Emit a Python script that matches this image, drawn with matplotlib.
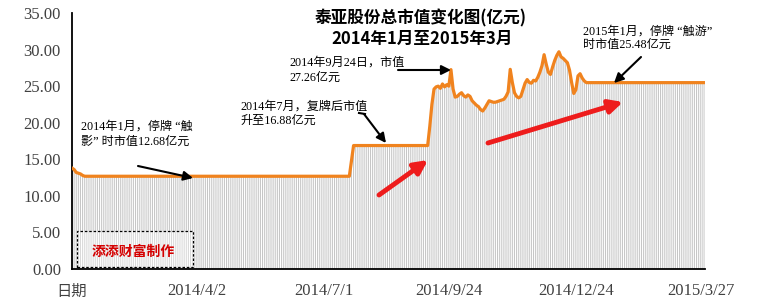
import numpy as np
import matplotlib
matplotlib.use('Agg')
import matplotlib.pyplot as plt
from matplotlib.patches import Rectangle, FancyArrowPatch

# ---------------- data (亿元, one value per trading day) ----------------
seg_jan = [13.8, 13.6, 13.2, 13.1, 13.0, 12.8]
seg_halt1 = [12.68] * 126
seg_resume = [14.8]
seg_flat2 = [16.88] * 36
seg_trade = [19.5, 22.5, 24.6, 24.9, 25.0, 24.7, 25.3, 24.9, 25.2, 25.0,
             27.26, 24.6, 23.5, 23.6, 23.9, 24.1, 23.7, 23.5, 23.8, 23.6,
             23.0, 22.7, 22.4, 22.2, 21.8, 21.6, 22.0, 22.5, 23.0, 22.9,
             22.8, 22.8, 22.9, 23.0, 23.1, 23.2, 23.6, 24.2, 27.3, 25.5,
             24.1, 23.6, 23.4, 23.6, 24.5, 25.4, 25.9, 25.5, 25.4, 25.8,
             25.7, 26.2, 26.9, 27.8, 29.3, 28.0, 26.9, 26.6, 27.6, 28.5,
             29.2, 29.7, 29.0, 28.8, 28.5, 28.2, 27.2, 25.5, 24.0, 24.5,
             26.4, 26.7, 26.1, 25.7]
seg_halt2 = [25.48] * 57
values = seg_jan + seg_halt1 + seg_resume + seg_flat2 + seg_trade + seg_halt2

tick_pos = [0, 59, 119, 178, 238, 297]
tick_labels = ["日期", "2014/4/2", "2014/7/1", "2014/9/24", "2014/12/24", "2015/3/27"]
yticks = [0, 5, 10, 15, 20, 25, 30, 35]

title_lines = ["泰亚股份总市值变化图(亿元)", "2014年1月至2015年3月"]

# ---------------- figure ----------------
W, H = 779, 305
fig = plt.figure(figsize=(W / 100, H / 100), dpi=100)
fig.patch.set_facecolor('white')
ax = fig.add_axes([72 / W, (H - 269) / H, (705 - 72) / W, (269 - 13) / H])

x = np.arange(len(values))
bars = ax.bar(x, values, width=0.5, color='#c6c6c6', linewidth=0, zorder=1)
for b in bars:
    b.set_snap(False)
ax.plot(x, values, color='#F0831E', lw=2.3, solid_joinstyle='round', zorder=3)

ax.set_xlim(0, len(values) - 1)
ax.set_ylim(0, 35)
ax.set_yticks(yticks)
ax.set_yticklabels([f"{v:.2f}" for v in yticks], fontfamily='Liberation Serif',
                   fontsize=12, color='#404040')
ax.set_xticks(tick_pos)
ax.set_xticklabels(tick_labels, fontsize=12, color='#404040')
for lab in ax.get_xticklabels():
    if lab.get_text() == "日期":
        lab.set_fontfamily(['Noto Sans CJK SC'])
        lab.set_fontsize(11)
    else:
        lab.set_fontfamily(['Liberation Serif'])
ax.tick_params(axis='y', length=0, pad=8)
ax.tick_params(axis='x', length=0, pad=10)
for s in ['top', 'right']:
    ax.spines[s].set_visible(False)
for s in ['left', 'bottom']:
    ax.spines[s].set_color('black')
    ax.spines[s].set_linewidth(1.3)


def P(px, py):
    return (px, H - py)


def ftext(px, py, s, **kw):
    fig.text(px / W, 1 - py / H, s, **kw)


# title
ftext(421, 18, title_lines[0], ha='center', va='center', fontsize=12,
      fontweight='bold', fontfamily=['Noto Sans CJK SC'])
ftext(422, 39, title_lines[1], ha='center', va='center', fontsize=12,
      fontweight='bold', fontfamily=['Noto Sans CJK SC'])

# annotations
afam = ['Liberation Serif', 'Noto Sans CJK SC']
akw = dict(ha='left', va='center', fontsize=8.7, fontfamily=afam, color='black')
ftext(81, 127, "2014年1月，停牌 “触", **akw)
ftext(81, 142, "影” 时市值12.68亿元", **akw)
ftext(240, 107, "2014年7月，复牌后市值", **akw)
ftext(240, 121, "升至16.88亿元", **akw)
ftext(289, 63, "2014年9月24日，市值", **akw)
ftext(289, 78, "27.26亿元", **akw)
ftext(583, 32, "2015年1月，停牌 “触游”", **akw)
ftext(583, 45, "时市值25.48亿元", **akw)


def farrow(p0, p1, color='black', lw=1.5, ms=14):
    a = FancyArrowPatch(P(*p0), P(*p1), transform=None, arrowstyle='-|>',
                        color=color, lw=lw, mutation_scale=ms, zorder=5,
                        shrinkA=0, shrinkB=0)
    fig.patches.append(a)


farrow((138, 166), (193, 178))
fig.lines.append(plt.Line2D([359, 365], [H - 113, H - 114], transform=None,
                            color='black', lw=1.5))
farrow((364, 114), (386, 143))
farrow((398, 70), (451, 70))
farrow((641, 57), (614, 83))
farrow((379, 195), (428, 160), color='#EE1C1C', lw=3.5, ms=20)
farrow((488, 143), (623, 102), color='#EE1C1C', lw=3.5, ms=20)

# watermark box
rect = Rectangle(P(77, 267), 116, 36, transform=None, facecolor=(1, 1, 1, 0.35),
                 edgecolor='black', lw=0.9, ls=(0, (2, 1.5)), zorder=6)
fig.patches.append(rect)
ftext(133, 252, "添添财富制作", ha='center', va='center', fontsize=10,
      fontweight='bold', color='#D40000', fontfamily=['Noto Sans CJK SC'],
      zorder=8)

fig.savefig('out.png', dpi=100)
